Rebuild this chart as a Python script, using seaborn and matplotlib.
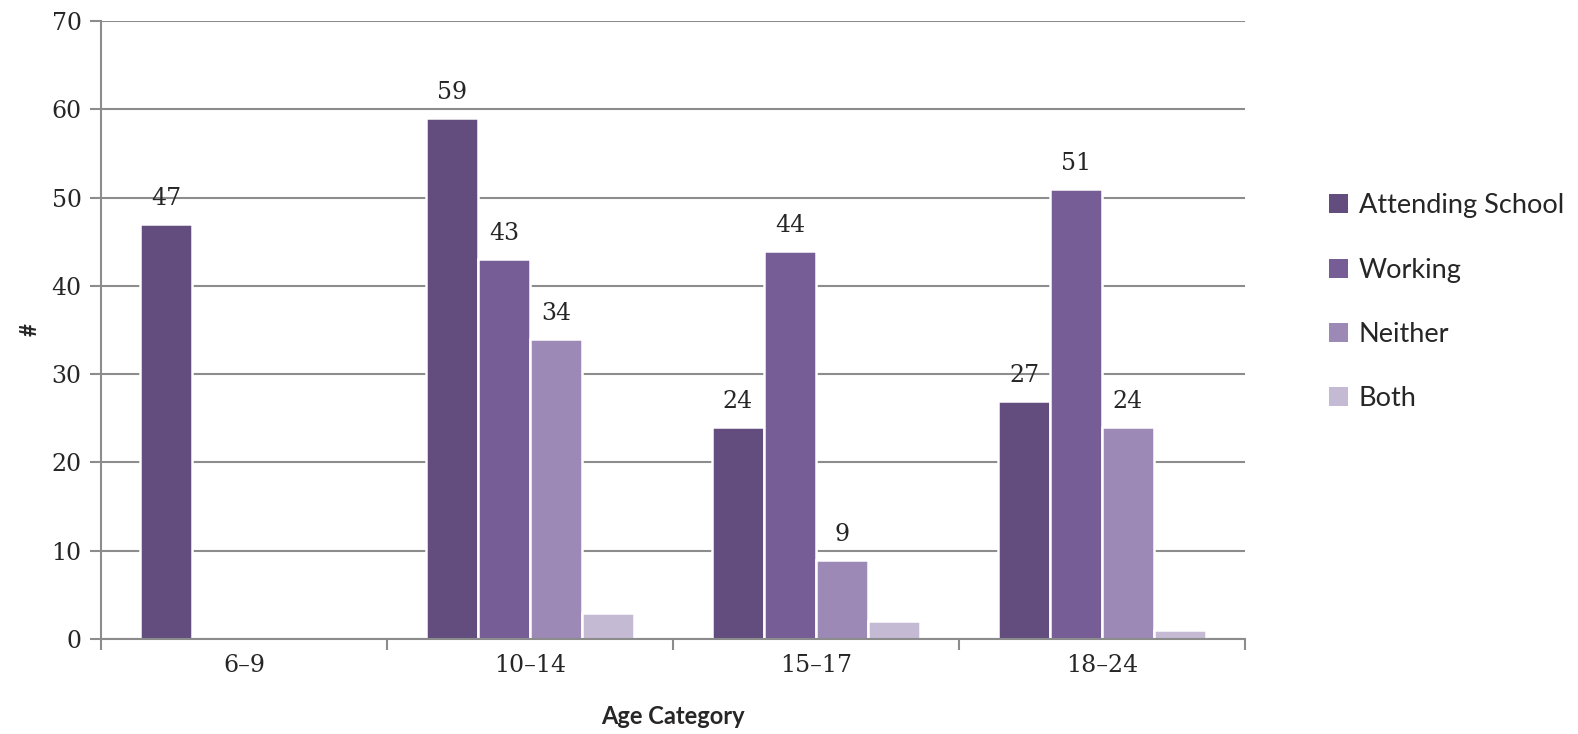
import matplotlib
matplotlib.use("Agg")
import matplotlib.pyplot as plt
import seaborn as sns
import pandas as pd
import numpy as np

# Data
age_groups = ["6–9", "10–14", "15–17", "18–24"]
statuses = ["Attending School", "Working", "Neither", "Both"]
attending = [47, 59, 24, 27]
working = [np.nan, 43, 44, 51]
neither = [np.nan, 34, 9, 24]
both = [np.nan, 3, 2, 1]
colors = ["#624D7E", "#765D96", "#9C89B5", "#C4BAD3"]

rows = []
for s, vals in zip(statuses, [attending, working, neither, both]):
    for g, v in zip(age_groups, vals):
        rows.append({"Age Category": g, "Status": s, "Count": v})
df = pd.DataFrame(rows).dropna()

sns.set_style("white")
serif = "DejaVu Serif"
sans = "Lato"

fig = plt.figure(figsize=(15.78, 7.34), dpi=100)
ax = fig.add_axes([0.064, 0.1294, 0.725, 0.842])

sns.barplot(data=df, x="Age Category", y="Count", hue="Status",
            order=age_groups, hue_order=statuses, palette=colors,
            width=0.727, edgecolor="white", linewidth=1.8,
            saturation=1, errorbar=None, ax=ax)

# value labels (the smallest bars carry none)
for cont in ax.containers:
    for bar in cont:
        h = bar.get_height()
        if np.isnan(h) or h < 5:
            continue
        ax.annotate(f"{int(h)}", (bar.get_x() + bar.get_width() / 2, h),
                    xytext=(0, 10), textcoords="offset points",
                    ha="center", va="bottom", fontsize=17, family=serif)

ax.set_ylim(0, 70)
ax.set_xlim(-0.5, 3.5)
ax.set_yticks(range(0, 71, 10))
ax.yaxis.grid(True, color="#8c8c8c", linewidth=1.5)
ax.set_axisbelow(True)

for sp in ["top", "right"]:
    ax.spines[sp].set_visible(False)
for sp in ["left", "bottom"]:
    ax.spines[sp].set_color("#8c8c8c")
    ax.spines[sp].set_linewidth(1.5)

ax.tick_params(axis="y", length=8, width=1.5, color="#8c8c8c",
               labelsize=17, pad=6, left=True)
ax.tick_params(axis="x", which="major", length=0, labelsize=17, pad=11)
ax.set_xticks(np.arange(-0.5, 4.0, 1.0), minor=True)
ax.tick_params(axis="x", which="minor", length=8, width=1.5,
               color="#8c8c8c", bottom=True)
for lab in ax.get_xticklabels() + ax.get_yticklabels():
    lab.set_family(serif)

ax.set_xlabel("Age Category", fontsize=17, fontweight="bold",
              family=sans, labelpad=20)
ax.set_ylabel("#", fontsize=16, fontweight="bold", family=sans, labelpad=8)

handles, labels = ax.get_legend_handles_labels()
leg = ax.legend(handles, labels, loc="center left",
                bbox_to_anchor=(1.052, 0.545), frameon=False,
                prop={"family": sans, "size": 19.5}, handlelength=0.7,
                handleheight=0.7, handletextpad=0.4, labelspacing=1.45)
for h in leg.legend_handles:
    h.set_edgecolor("none")

fig.savefig("out.png", dpi=100)
